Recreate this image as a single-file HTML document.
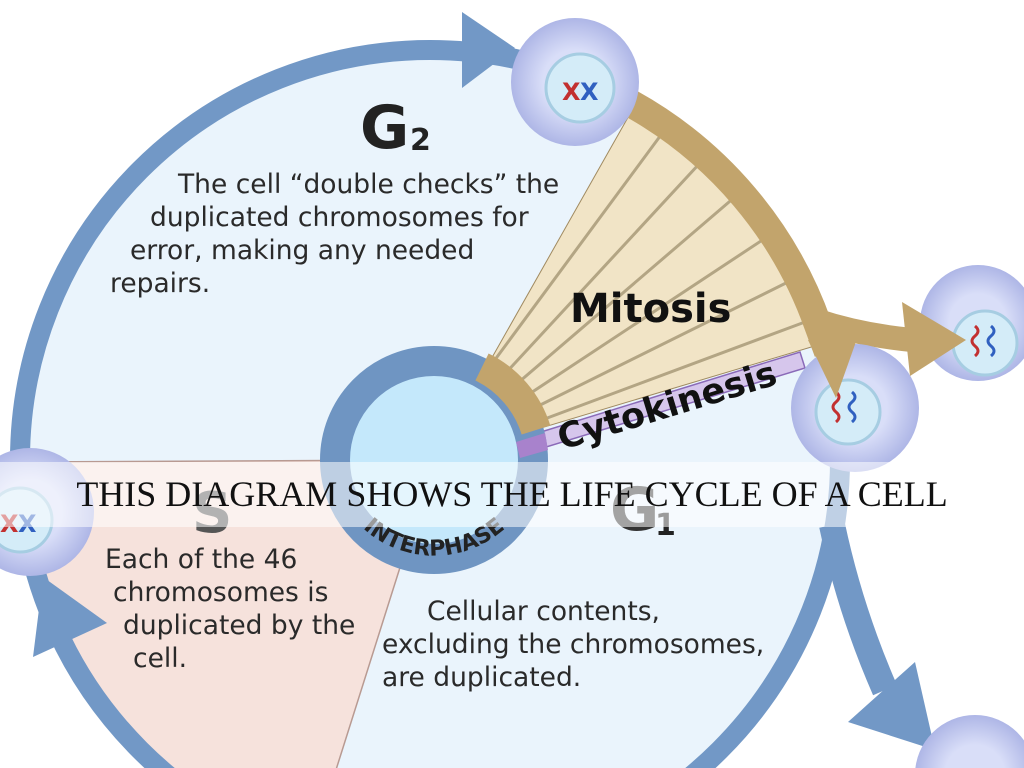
<!DOCTYPE html>
<html><head><meta charset="utf-8"><style>
html,body{margin:0;padding:0;background:#fff;width:1024px;height:768px;overflow:hidden}
svg{display:block;overflow:hidden}
.t{font-family:"DejaVu Sans","Liberation Sans",sans-serif;fill:#2a2a2a}
</style></head><body>
<svg width="1024" height="768" viewBox="0 0 1024 768" xmlns="http://www.w3.org/2000/svg">
<defs>
<radialGradient id="cg" cx="50%" cy="50%" r="50%">
<stop offset="0.5" stop-color="#d9def8"/><stop offset="1" stop-color="#aeb6e6"/>
</radialGradient>
<clipPath id="pg"><rect width="1024" height="768"/></clipPath>
<path id="ip" d="M336,490 A106,106 0 0 0 532,490"/>
</defs>
<g clip-path="url(#pg)">
<rect width="1024" height="768" fill="#fff"/>
<circle cx="430" cy="460" r="410" fill="#eaf4fc"/>
<path d="M434,460 L22,462 A410,410 0 0 0 310,852 Z" fill="#f6e2dc" stroke="#b89a92" stroke-width="1.5"/>
<path d="M434,460 L635,105 A410,410 0 0 1 815,320 L818,345 Z" fill="#f1e4c6" stroke="#a08a60" stroke-width="1"/>
<g stroke="#a49674" stroke-width="3" fill="none" opacity="0.8">
<line x1="480" y1="380" x2="672" y2="120"/>
<line x1="490" y1="390" x2="712" y2="150"/>
<line x1="498" y1="400" x2="743" y2="190"/>
<line x1="505" y1="410" x2="770" y2="235"/>
<line x1="510" y1="420" x2="792" y2="280"/>
<line x1="515" y1="430" x2="805" y2="322"/>
</g>
<path d="M515,440 L800,352 L805,368 L520,455 Z" fill="#d6c6ec" stroke="#8a6ab8" stroke-width="1.5"/>
<circle cx="430" cy="460" r="410" fill="none" stroke="#7298c6" stroke-width="20"/>
<path d="M462,12 L515,48 L462,88 Z" fill="#7298c6"/>
<path d="M43,577 L107,623 L33,657 Z" fill="#7298c6"/>
<path d="M832,525 Q850,610 885,690" fill="none" stroke="#7298c6" stroke-width="26"/>
<path d="M915,662 L935,750 L848,722 Z" fill="#7298c6"/>
<path d="M630,103 A410,410 0 0 1 818,325 L828,352" fill="none" stroke="#c2a46c" stroke-width="28"/>
<path d="M815,320 Q860,335 912,340" fill="none" stroke="#c2a46c" stroke-width="24"/>
<circle cx="434" cy="460" r="99" fill="#c4e8fb" stroke="#6f95c2" stroke-width="30"/>
<path d="M482,367 A105,105 0 0 1 536,430" fill="none" stroke="#c2a46c" stroke-width="30"/>
<path d="M516,442 L545,433 L548,450 L520,458 Z" fill="#a882cc"/>
<text font-family="DejaVu Sans,sans-serif" font-weight="bold" font-size="22" fill="#222"><textPath href="#ip" startOffset="50%" text-anchor="middle">INTERPHASE</textPath></text>
<circle cx="575" cy="82" r="64" fill="url(#cg)"/><circle cx="580" cy="88" r="34" fill="#d4ecf8" stroke="#a6cde2" stroke-width="3"/>
<text x="562" y="100" font-size="24" font-family="DejaVu Sans,sans-serif" font-weight="bold" fill="#c23030">X</text><text x="580" y="100" font-size="24" font-family="DejaVu Sans,sans-serif" font-weight="bold" fill="#3060c0">X</text>
<circle cx="855" cy="408" r="64" fill="url(#cg)"/><circle cx="848" cy="412" r="32" fill="#d4ecf8" stroke="#a6cde2" stroke-width="3"/>
<path d="M836,392 q6,5 0,10 q-6,5 0,10 q6,5 0,10" fill="none" stroke="#c23030" stroke-width="3"/>
<path d="M852,392 q6,5 0,10 q-6,5 0,10 q6,5 0,10" fill="none" stroke="#3060c0" stroke-width="3"/>
<circle cx="978" cy="323" r="58" fill="url(#cg)"/><circle cx="985" cy="343" r="32" fill="#d4ecf8" stroke="#a6cde2" stroke-width="3"/>
<path d="M975,326 q6,5 0,10 q-6,5 0,10 q6,5 0,10" fill="none" stroke="#c23030" stroke-width="3"/>
<path d="M991,326 q6,5 0,10 q-6,5 0,10 q6,5 0,10" fill="none" stroke="#3060c0" stroke-width="3"/>
<circle cx="30" cy="512" r="64" fill="url(#cg)"/><circle cx="20" cy="520" r="32" fill="#d4ecf8" stroke="#a6cde2" stroke-width="3"/>
<text x="0" y="532" font-size="24" font-family="DejaVu Sans,sans-serif" font-weight="bold" fill="#c23030">X</text><text x="18" y="532" font-size="24" font-family="DejaVu Sans,sans-serif" font-weight="bold" fill="#3060c0">X</text>
<circle cx="975" cy="775" r="60" fill="url(#cg)"/>
<!-- tan arrowheads over cells -->
<path d="M808,340 L858,336 L836,398 Z" fill="#c2a46c"/>
<path d="M902,302 L966,340 L910,376 Z" fill="#c2a46c"/>
<text x="360" y="148" font-family="DejaVu Sans,sans-serif" font-weight="bold" font-size="60" fill="#222">G</text>
<text x="410" y="150" font-family="DejaVu Sans,sans-serif" font-weight="bold" font-size="30" fill="#222">2</text>
<g class="t" font-size="26.5">
<text x="178" y="193">The cell “double checks” the</text>
<text x="150" y="226">duplicated chromosomes for</text>
<text x="130" y="259">error, making any needed</text>
<text x="110" y="292">repairs.</text>
<text x="105" y="568">Each of the 46</text>
<text x="113" y="601">chromosomes is</text>
<text x="123" y="634">duplicated by the</text>
<text x="133" y="667">cell.</text>
<text x="427" y="620">Cellular contents,</text>
<text x="382" y="653">excluding the chromosomes,</text>
<text x="382" y="686">are duplicated.</text>
</g>
<text x="570" y="322" font-family="DejaVu Sans,sans-serif" font-weight="bold" font-size="40" fill="#111">Mitosis</text>
<text font-family="DejaVu Sans,sans-serif" font-weight="bold" font-size="35" fill="#111" transform="translate(562,450) rotate(-17)">Cytokinesis</text>
<text x="192" y="532" font-family="DejaVu Sans,sans-serif" font-weight="bold" font-size="56" fill="#555">S</text>
<text x="610" y="530" font-family="DejaVu Sans,sans-serif" font-weight="bold" font-size="60" fill="#333">G</text>
<text x="655" y="535" font-family="DejaVu Sans,sans-serif" font-weight="bold" font-size="30" fill="#222">1</text>
<rect x="0" y="462" width="1024" height="65" fill="#fff" opacity="0.55"/>
<text x="512" y="506" text-anchor="middle" font-family="Liberation Serif,serif" font-size="36" fill="#111">THIS DIAGRAM SHOWS THE LIFE CYCLE OF A CELL</text>
</g>
</svg>
</body></html>
